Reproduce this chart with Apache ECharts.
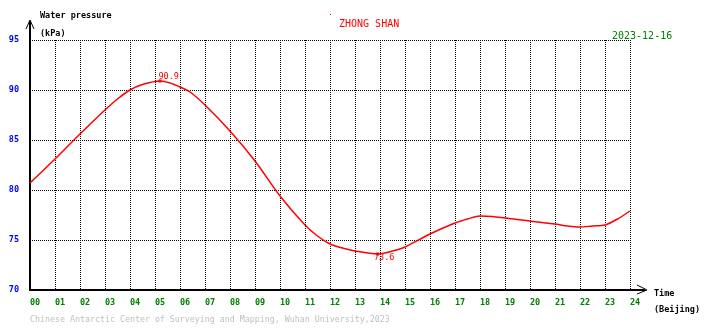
<!DOCTYPE html>
<html>
<head>
<meta charset="utf-8">
<script src="https://cdn.jsdelivr.net/npm/echarts@6/dist/echarts.min.js"></script>
<style>
  html, body { margin: 0; padding: 0; background: #ffffff; }
  #chart { width: 710px; height: 328px; }
</style>
</head>
<body>
<div id="chart"></div>
<script>
// Water pressure at Zhong Shan station over one day (Beijing time)
const hours = [0, 1, 2, 3, 3.5, 4, 4.5, 5.2, 5.6, 6, 6.4, 7, 8, 9, 10, 11, 11.5, 12, 12.5, 13, 13.9, 14.5, 15, 16, 17, 17.5, 18, 18.5, 19, 20, 21, 21.5, 22, 22.5, 23, 23.5, 24];
const pressure = [80.7, 83.1, 85.6, 88.0, 89.1, 90.0, 90.55, 90.9, 90.7, 90.3, 89.8, 88.5, 85.9, 82.9, 79.4, 76.5, 75.4, 74.6, 74.2, 73.9, 73.6, 73.9, 74.3, 75.6, 76.7, 77.1, 77.4, 77.35, 77.2, 76.9, 76.6, 76.4, 76.3, 76.4, 76.5, 77.1, 77.9];
const hourTicks = [0, 24, 1];      // min, max, step of the time axis
const pressureTicks = [70, 95, 5]; // min, max, step of the pressure axis

const stationName = 'ZHONG SHAN';
const dateText = '2023-12-16';
const footer = 'Chinese Antarctic Center of Surveying and Mapping, Wuhan University,2023';

const FONT = 'DejaVu Sans Mono';
const series = hours.map((h, i) => [h, pressure[i]]);

const chart = echarts.init(document.getElementById('chart'), null, { renderer: 'canvas' });

const dotted = { type: [1, 1], color: '#000000', width: 1 };

chart.setOption({
  animation: false,
  backgroundColor: '#ffffff',
  grid: { left: 30, right: 80, top: 40, bottom: 38, containLabel: false },
  xAxis: {
    type: 'value',
    min: hourTicks[0], max: hourTicks[1], interval: hourTicks[2],
    axisLine: { show: true, lineStyle: { color: '#000000', width: 2 } },
    axisTick: { show: false },
    splitLine: { show: true, lineStyle: dotted },
    axisLabel: {
      color: '#008000', fontFamily: FONT, fontSize: 8.5, fontWeight: 'bold',
      align: 'left', margin: 8,
      formatter: v => String(v).padStart(2, '0')
    }
  },
  yAxis: {
    type: 'value',
    min: pressureTicks[0], max: pressureTicks[1], interval: pressureTicks[2],
    axisLine: { show: true, lineStyle: { color: '#000000', width: 2 } },
    axisTick: { show: false },
    splitLine: { show: true, lineStyle: dotted },
    axisLabel: {
      color: '#0000ff', fontFamily: FONT, fontSize: 8.5, fontWeight: 'bold',
      margin: 11, padding: [0, 0, 4, 0]
    }
  },
  series: [{
    type: 'line',
    data: series,
    smooth: 0.3,
    showSymbol: false,
    lineStyle: { color: '#ff0000', width: 1.5 },
    markPoint: {
      symbol: 'rect',
      symbolSize: 3,
      itemStyle: { color: '#ff0000' },
      label: {
        show: true, color: '#ff0000', fontFamily: FONT, fontSize: 8.5,
        align: 'left', formatter: p => p.value.toFixed(1)
      },
      data: [
        { type: 'max', label: { position: [0, -7] } },
        { type: 'min', label: { position: [-2, 1] } }
      ]
    }
  }],
  graphic: [
    // axis extensions with open arrow heads
    { type: 'polyline', shape: { points: [[30, 40], [30, 21]] }, style: { stroke: '#000', lineWidth: 2, fill: null } },
    { type: 'polyline', shape: { points: [[26, 29], [30, 20], [34, 29]] }, style: { stroke: '#000', lineWidth: 1, fill: null } },
    { type: 'polyline', shape: { points: [[630, 290], [645, 290]] }, style: { stroke: '#000', lineWidth: 2, fill: null } },
    { type: 'polyline', shape: { points: [[637, 285], [647, 290], [637, 294]] }, style: { stroke: '#000', lineWidth: 1, fill: null } },
    // axis captions
    { type: 'text', left: 40, top: 11, style: { text: 'Water pressure', fill: '#000', font: 'bold 8.5px "DejaVu Sans Mono"' } },
    { type: 'text', left: 40, top: 29, style: { text: '(kPa)', fill: '#000', font: 'bold 8.5px "DejaVu Sans Mono"' } },
    { type: 'text', left: 654, top: 289, style: { text: 'Time', fill: '#000', font: 'bold 8.5px "DejaVu Sans Mono"' } },
    { type: 'text', left: 654, top: 305, style: { text: '(Beijing)', fill: '#000', font: 'bold 8.5px "DejaVu Sans Mono"' } },
    // titles
    { type: 'rect', shape: { x: 330, y: 14, width: 1, height: 1 }, style: { fill: '#ff0000' } },
    { type: 'text', left: 339, top: 19, style: { text: stationName, fill: '#ff0000', font: '10px "DejaVu Sans Mono"' } },
    { type: 'text', left: 612, top: 31, style: { text: dateText, fill: '#008000', font: '10px "DejaVu Sans Mono"' } },
    { type: 'text', left: 30, top: 316, style: { text: footer, fill: '#c0c0c0', font: '8.3px "DejaVu Sans Mono"' } }
  ]
});
</script>
</body>
</html>
